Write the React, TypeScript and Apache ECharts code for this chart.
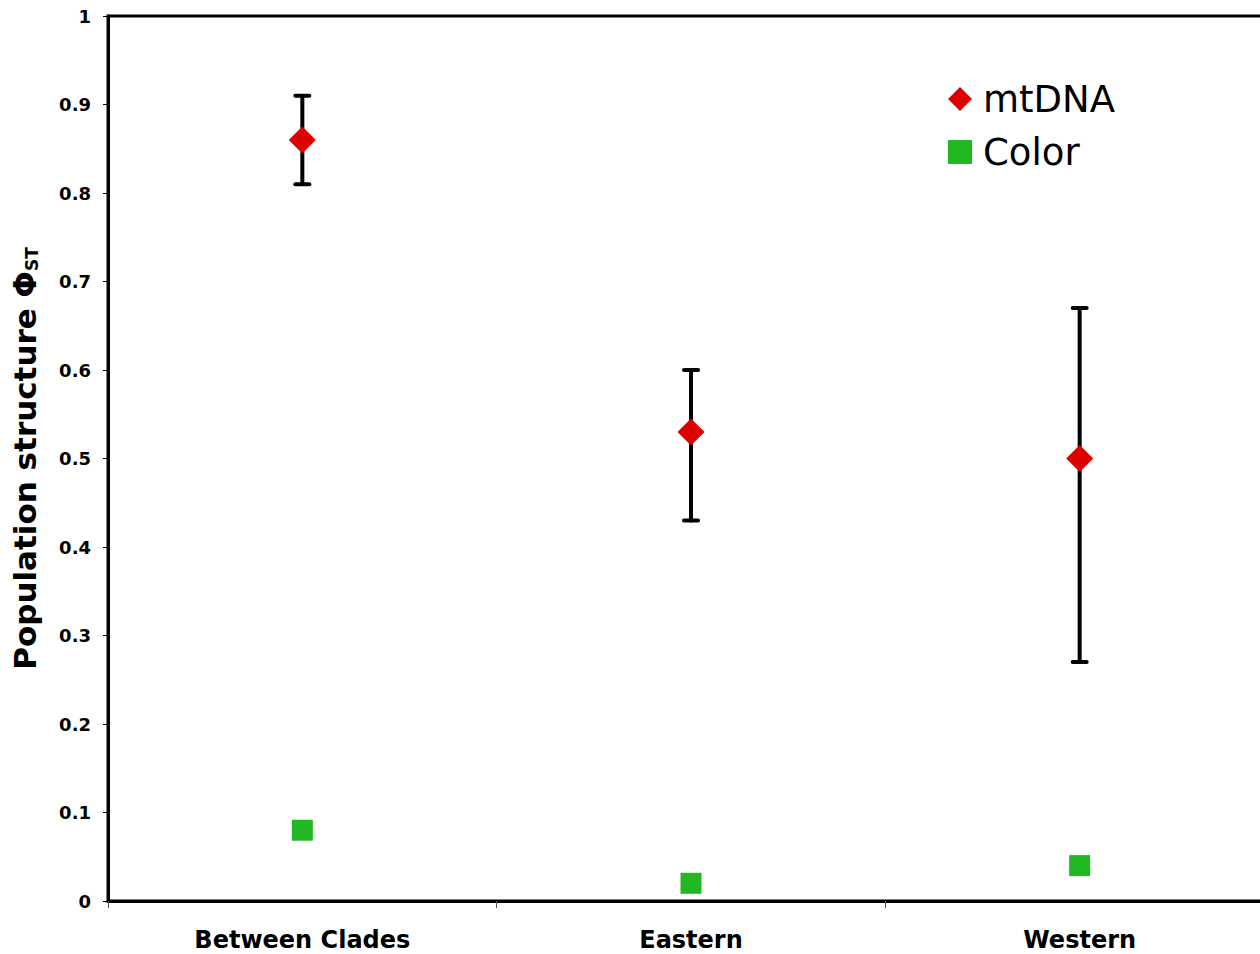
import React, { useEffect, useRef } from "react";
import * as echarts from "echarts";

const categories = ["Between Clades", "Eastern", "Western"];
const mtDNA = [0.86, 0.53, 0.5];
const mtDNALow = [0.81, 0.43, 0.27];
const mtDNAHigh = [0.91, 0.6, 0.67];
const colorValues = [0.08, 0.02, 0.04];
const yTicks = [0, 0.1, 0.2, 0.3, 0.4, 0.5, 0.6, 0.7, 0.8, 0.9, 1];

export default function App() {
  const ref = useRef<HTMLDivElement>(null);
  useEffect(() => {
    document.body.style.margin = "0";
    document.body.style.overflow = "hidden";
    const chart = echarts.init(ref.current!, null, { renderer: "svg" });
    const font = "DejaVu Sans";
    chart.setOption({
      animation: false,
      backgroundColor: "#ffffff",
      grid: {
        left: 108,
        right: 2,
        top: 16,
        bottom: 53,
        show: true,
        borderColor: "#000",
        borderWidth: 3,
      },
      legend: {
        orient: "vertical",
        left: 943,
        top: 74,
        itemWidth: 24,
        itemHeight: 24,
        itemGap: 13,
        data: [
          { name: "mtDNA", icon: "diamond" },
          { name: "Color", icon: "rect" },
        ],
        textStyle: { fontFamily: font, fontSize: 37, color: "#000", lineHeight: 40, padding: [0, 0, 0, 6] },
      },
      xAxis: {
        type: "category",
        data: categories,
        boundaryGap: true,
        axisLine: { lineStyle: { color: "#000", width: 3 } },
        axisTick: { show: true, length: 7, lineStyle: { color: "#555", width: 1 } },
        axisLabel: {
          fontFamily: font,
          fontWeight: "bold",
          fontSize: 24,
          color: "#000",
          margin: 27,
        },
        splitLine: { show: false },
      },
      yAxis: {
        type: "value",
        min: 0,
        max: 1,
        interval: 0.1,
        name: "{a|Population structure }{b|Φ}{c|ST}",
        nameLocation: "middle",
        nameGap: 68,
        nameRotate: 90,
        nameTextStyle: {
          rich: {
            a: { fontFamily: font, fontWeight: "bold", fontSize: 31, color: "#000" },
            b: { fontFamily: font, fontWeight: "bold", fontSize: 31, color: "#000" },
            c: { fontFamily: font, fontWeight: "bold", fontSize: 17, color: "#000", verticalAlign: "bottom" },
          },
        },
        axisLine: { show: true, lineStyle: { color: "#000", width: 3 } },
        axisTick: { show: true, length: 5, lineStyle: { color: "#000", width: 1 } },
        axisLabel: {
          fontFamily: font,
          fontWeight: "bold",
          fontSize: 18,
          color: "#000",
          margin: 17,
          formatter: (v: number) => {
            const t = yTicks.find((x) => Math.abs(x - v) < 1e-9);
            return String(t !== undefined ? Math.round(t * 10) / 10 : v);
          },
        },
        splitLine: { show: false },
      },
      series: [
        {
          type: "custom",
          name: "err",
          z: 1,
          renderItem: (params: any, api: any) => {
            const xi = api.value(0);
            const lo = api.coord([xi, api.value(1)]);
            const hi = api.coord([xi, api.value(2)]);
            const cap = 7;
            const style = { stroke: "#000", lineWidth: 4, lineCap: "round" };
            return {
              type: "group",
              children: [
                { type: "line", shape: { x1: lo[0], y1: lo[1], x2: hi[0], y2: hi[1] }, style },
                { type: "line", shape: { x1: lo[0] - cap, y1: lo[1], x2: lo[0] + cap, y2: lo[1] }, style },
                { type: "line", shape: { x1: hi[0] - cap, y1: hi[1], x2: hi[0] + cap, y2: hi[1] }, style },
              ],
            };
          },
          data: categories.map((_, i) => [i, mtDNALow[i], mtDNAHigh[i]]),
        },
        {
          type: "scatter",
          name: "mtDNA",
          symbol: "diamond",
          symbolSize: 27,
          z: 3,
          itemStyle: { color: "#dd0000", opacity: 1 },
          data: mtDNA,
        },
        {
          type: "scatter",
          name: "Color",
          symbol: "rect",
          symbolSize: 21,
          z: 3,
          itemStyle: { color: "#22b822", opacity: 1 },
          data: colorValues,
        },
      ],
    });
    return () => chart.dispose();
  }, []);
  return <div ref={ref} style={{ width: 1276, height: 954 }} />;
}
